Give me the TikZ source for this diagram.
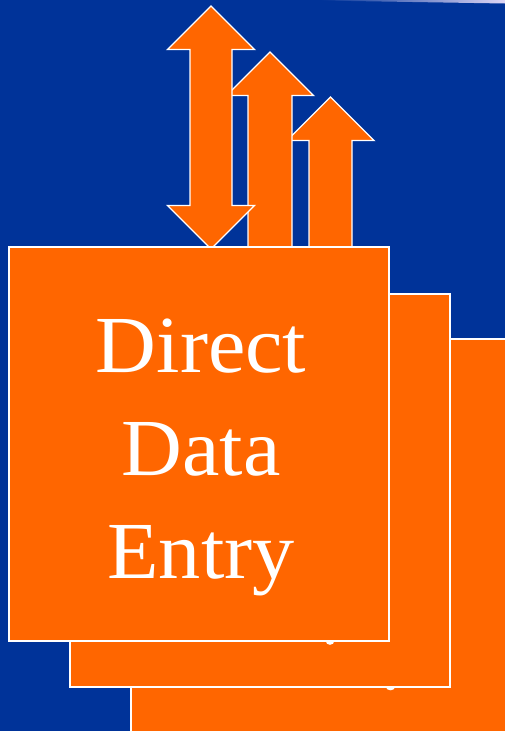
\documentclass[tikz,border=0pt]{standalone}
\usepackage{fontspec}
\setmainfont{Liberation Serif}
\newfontfamily\panelfont[FakeStretch=1.04]{Liberation Serif}
\definecolor{bgblue}{HTML}{003399}
\definecolor{boxorange}{HTML}{FF6600}
\definecolor{edgelav}{RGB}{222,214,245}
\tikzset{
  panel/.style={fill=boxorange, draw=white, line width=1.5pt, rectangle, inner sep=0pt, outer sep=0pt},
  bigarrow/.style={fill=boxorange, draw=white, line width=1.4pt, line join=miter},
  bump/.style={fill=white, draw=none},
  paneltext/.style={text=white, align=center, font=\panelfont\fontsize{81}{103}\selectfont, inner sep=0pt}
}
\begin{document}
\begin{tikzpicture}[x=1pt,y=-1pt]
\useasboundingbox (0,0) rectangle (505,731);
\clip (0,0) rectangle (505,731);
\fill[bgblue] (0,0) rectangle (505,731);
% faint edge at the top right
\shade[left color=bgblue, right color=edgelav] (320,0) -- (505,0) -- (505,3.5) -- (320,0.5) -- cycle;
% back panel
\node[panel, minimum width=380pt, minimum height=394pt] (back) at (321,536) {};
\fill[bump] (390.5,687) ellipse [x radius=4.5pt, y radius=3.3pt];
% middle panel
\node[panel, minimum width=380pt, minimum height=393pt] (middle) at (260,490.5) {};
\fill[bump] (330,641) ellipse [x radius=4.3pt, y radius=3.8pt];
% arrows
\draw[bigarrow] (330.5,97) -- (374,140.5) -- (352,140.5) -- (352,300) -- (309,300) -- (309,140.5) -- (287,140.5) -- cycle;
\draw[bigarrow] (270,52) -- (313.5,95.5) -- (292,95.5) -- (292,300) -- (248,300) -- (248,95.5) -- (226.5,95.5) -- cycle;
\draw[bigarrow] (211,6) -- (254.5,49.5) -- (232,49.5) -- (232,205.5) -- (254.5,205.5) -- (211,249) -- (167.5,205.5) -- (190,205.5) -- (190,49.5) -- (167.5,49.5) -- cycle;
% front panel
\node[panel, minimum width=380pt, minimum height=394pt] (front) at (199,444) {};
\node[paneltext] (label) at (201,457) {Direct\\Data\\Entry};
\end{tikzpicture}
\end{document}
